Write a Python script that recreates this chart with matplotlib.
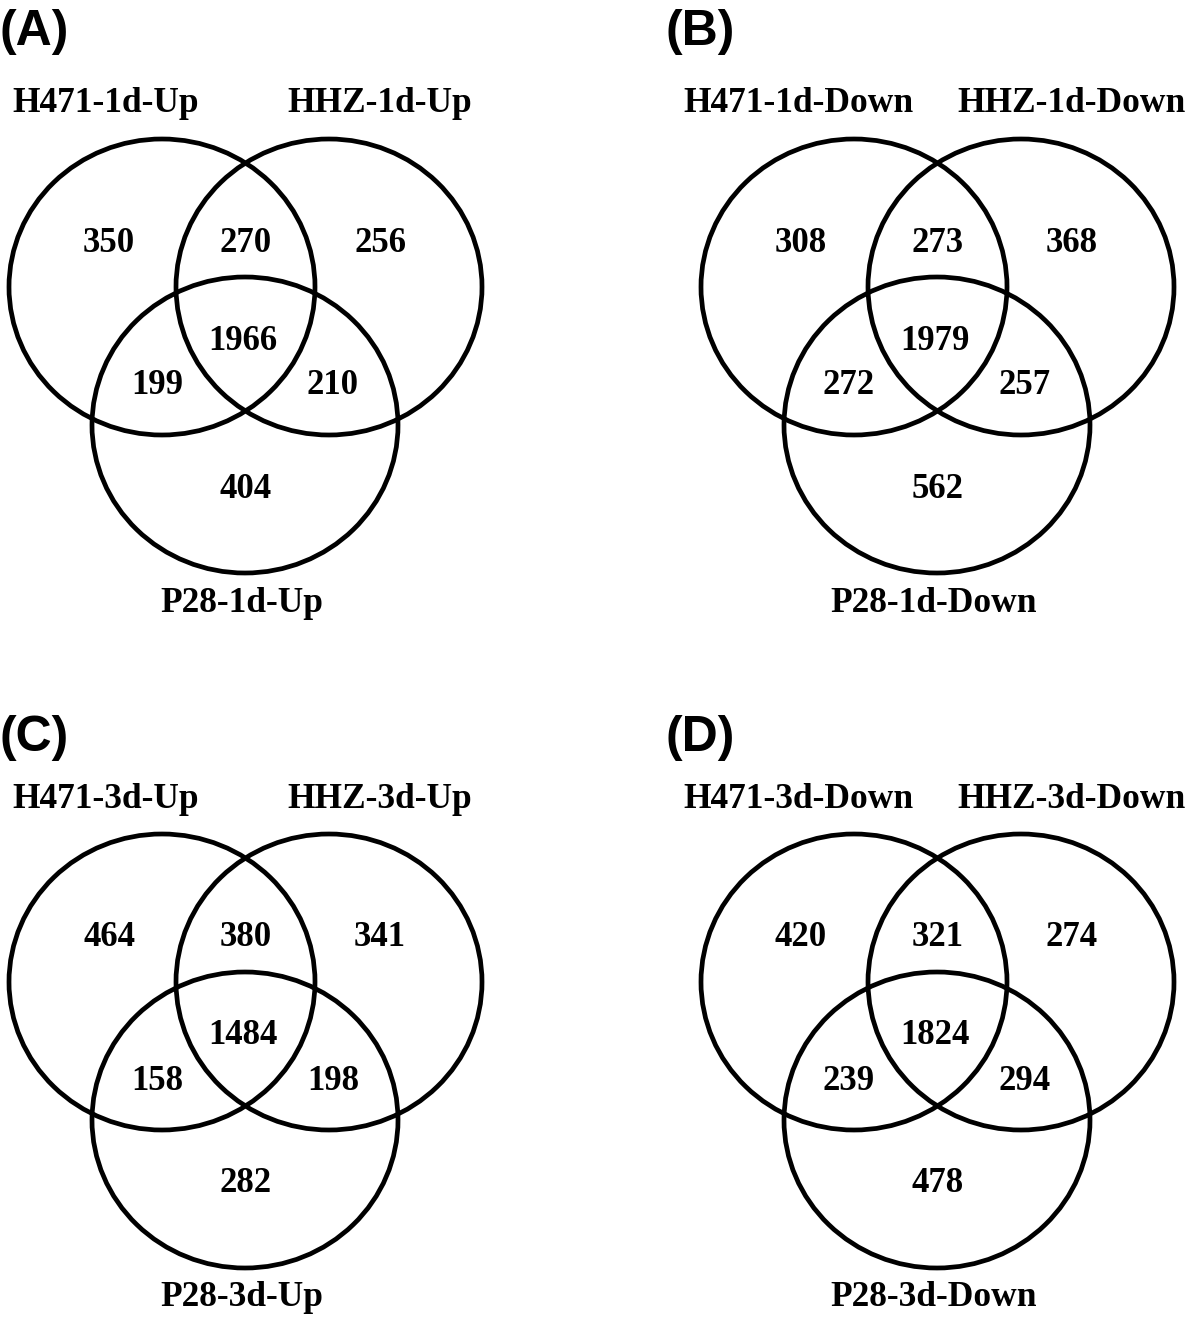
"""
three-set Venn diagrams of up/down regulated genes, four panels
"""
import matplotlib as mpl
mpl.use('Agg')
import matplotlib.pyplot as plt
from matplotlib.patches import Ellipse

# data
panels = ['(A)', '(B)', '(C)', '(D)']
set_left = ['H471-1d-Up', 'H471-1d-Down', 'H471-3d-Up', 'H471-3d-Down']
set_right = ['HHZ-1d-Up', 'HHZ-1d-Down', 'HHZ-3d-Up', 'HHZ-3d-Down']
set_bottom = ['P28-1d-Up', 'P28-1d-Down', 'P28-3d-Up', 'P28-3d-Down']
# region order: left only, left&right, right only, all, left&bottom, right&bottom, bottom only
only_left = [350, 308, 464, 420]
left_right = [270, 273, 380, 321]
only_right = [256, 368, 341, 274]
all_three = [1966, 1979, 1484, 1824]
left_bottom = [199, 272, 158, 239]
right_bottom = [210, 257, 198, 294]
only_bottom = [404, 562, 282, 478]

# layout in pixels
W, H = 1200, 1320
dx, dy = 692, 695
ew, eh = 306, 296
centers = [(162, 287), (329, 287), (245, 425)]
region_xy = [(109, 243), (246, 243), (380, 243), (243, 341),
             (157, 386), (333, 386), (246, 489)]
letter_x = [0, 666]
letter_y = [32, 738]
serif = dict(family='Liberation Serif', fontweight='bold')
ftnum = 25
ftlab = 25.5

fig = plt.figure(figsize=(W/100, H/100), dpi=100)
ax = fig.add_axes([0, 0, 1, 1])
ax.set_xlim(0, W)
ax.set_ylim(H, 0)
ax.axis('off')

for i in range(4):
    ox = dx*(i % 2)
    oy = dy*(i//2)
    for cx, cy in centers:
        ax.add_patch(Ellipse((cx+ox, cy+oy), ew, eh, fill=False,
                             edgecolor='black', linewidth=3.4))
    vals = [only_left[i], left_right[i], only_right[i], all_three[i],
            left_bottom[i], right_bottom[i], only_bottom[i]]
    for (x, y), v in zip(region_xy, vals):
        ax.text(x+ox, y+oy, str(v), ha='center', va='center',
                fontsize=ftnum, **serif)
    ax.text(106+ox, 104+oy, set_left[i], ha='center', va='center',
            fontsize=ftlab, **serif)
    ax.text(380+ox, 104+oy, set_right[i], ha='center', va='center',
            fontsize=ftlab, **serif)
    ax.text(242+ox, 603+oy, set_bottom[i], ha='center', va='center',
            fontsize=ftlab, **serif)
    ax.text(letter_x[i % 2], letter_y[i//2], panels[i], ha='left',
            va='center', fontsize=36, fontweight='bold',
            family='Liberation Sans')

plt.savefig('out.png', dpi=100)
